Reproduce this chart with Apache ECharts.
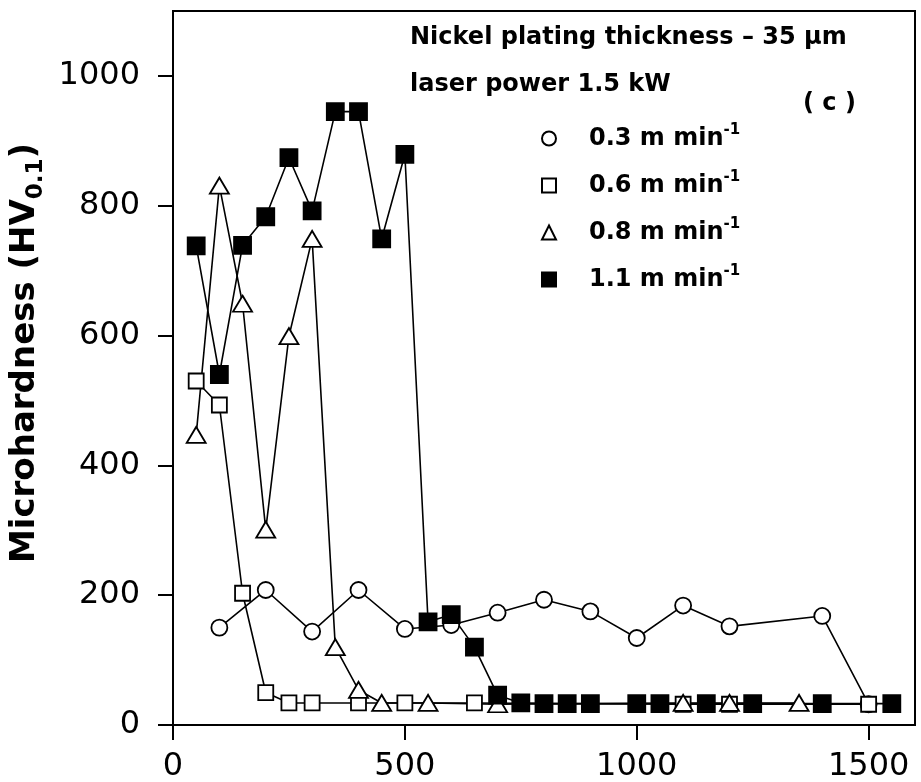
<!DOCTYPE html>
<html>
<head>
<meta charset="utf-8">
<script src="https://cdn.jsdelivr.net/npm/echarts@6/dist/echarts.min.js"></script>
<style>
  html, body { margin: 0; padding: 0; background: #fff; }
  #chart { width: 921px; height: 782px; }
</style>
</head>
<body>
<div id="chart"></div>
<script>
// traverse speeds
var speedNames = ['0.3 m min⁻¹', '0.6 m min⁻¹', '0.8 m min⁻¹', '1.1 m min⁻¹'];

var dist03 = [100, 200, 300, 400, 500, 600, 700, 800, 900, 1000, 1100, 1200, 1400, 1500];
var hv03 = [150, 208, 144, 208, 148, 154, 173, 193, 175, 134, 184, 152, 168, 32];

var dist06 = [50, 100, 150, 200, 250, 300, 400, 500, 650, 1100, 1200, 1500];
var hv06 = [530, 493, 203, 50, 34, 34, 34, 34, 34, 32, 32, 32];

var dist08 = [50, 100, 150, 200, 250, 300, 350, 400, 450, 550, 700, 1100, 1200, 1350];
var hv08 = [447, 831, 649, 301, 599, 749, 120, 54, 34, 34, 32, 34, 34, 34];

var dist11 = [50, 100, 150, 200, 250, 300, 350, 400, 450, 500, 550, 600, 650, 700, 750, 800, 850, 900, 1000, 1050, 1150, 1250, 1400, 1550];
var hv11 = [738, 540, 739, 783, 874, 792, 945, 945, 749, 879, 159, 170, 120, 46, 34, 33, 33, 33, 33, 33, 33, 33, 33, 33];

var xTicks = [0, 500, 1000, 1500];
var yTicks = [0, 200, 400, 600, 800, 1000];

var FONT = '"DejaVu Sans", sans-serif';

function pairs(xs, ys) {
  return xs.map(function (x, i) { return [x, ys[i]]; });
}

function mkSeries(name, xs, ys, symbol, size, fill) {
  return {
    name: name,
    type: 'line',
    data: pairs(xs, ys),
    symbol: symbol,
    symbolSize: size,
    showAllSymbol: true,
    lineStyle: { color: '#000', width: 1.6 },
    itemStyle: { color: fill, borderColor: '#000', borderWidth: 1.8 },
    emphasis: { disabled: true },
    z: 2
  };
}

var chart = echarts.init(document.getElementById('chart'), null, { renderer: 'canvas' });

var option = {
  animation: false,
  backgroundColor: '#fff',
  grid: {
    left: 173, right: 6, top: 11, bottom: 57,
    show: true, borderColor: '#000', borderWidth: 2,
    outerBoundsMode: 'none'
  },
  xAxis: {
    type: 'value',
    min: 0, max: 1600,
    axisLine: { show: true, lineStyle: { color: '#000', width: 2 } },
    axisTick: { show: true, inside: false, length: 15, customValues: xTicks, lineStyle: { color: '#000', width: 2 } },
    axisLabel: {
      customValues: xTicks, margin: 26, color: '#000', fontFamily: FONT, fontSize: 32,
      formatter: function (v) { return String(v); }
    },
    splitLine: { show: false }
  },
  yAxis: {
    type: 'value',
    min: 0, max: 1100,
    name: '{m|Microhardness (HV}{s|0.1}{m|)}',
    nameLocation: 'middle',
    nameGap: 123,
    nameRotate: 90,
    nameTextStyle: {
      padding: [0, 0, 0, 30],
      rich: {
        m: { fontFamily: FONT, fontWeight: 'bold', fontSize: 34, lineHeight: 38, color: '#000' },
        s: { fontFamily: FONT, fontWeight: 'bold', fontSize: 23, lineHeight: 23, padding: [22, 0, 0, 0], color: '#000' }
      }
    },
    axisLine: { show: true, lineStyle: { color: '#000', width: 2 } },
    axisTick: { show: true, inside: false, length: 15, customValues: yTicks, lineStyle: { color: '#000', width: 2 } },
    axisLabel: {
      customValues: yTicks, margin: 33, color: '#000', fontFamily: FONT, fontSize: 32,
      formatter: function (v) { return String(v); }
    },
    splitLine: { show: false }
  },
  legend: {
    orient: 'vertical',
    left: 536, top: 118,
    itemWidth: 14, itemHeight: 14,
    itemGap: 16,
    selectedMode: false,
    data: [
      { name: speedNames[0], icon: 'circle' },
      { name: speedNames[1], icon: 'rect' },
      { name: speedNames[2], icon: 'triangle' },
      { name: speedNames[3], icon: 'rect' }
    ],
    formatter: function (name) {
      return '{a|' + name.replace('⁻¹', '') + '}{s|-1}';
    },
    textStyle: {
      rich: {
        a: { fontFamily: FONT, fontWeight: 'bold', fontSize: 24, lineHeight: 28, padding: [0, 0, 0, 28], color: '#000' },
        s: { fontFamily: FONT, fontWeight: 'bold', fontSize: 15, lineHeight: 15, padding: [0, 0, 16, 0], color: '#000' }
      }
    }
  },
  graphic: [
    { type: 'text', left: 410, top: 26, style: { text: 'Nickel plating thickness – 35 µm', font: 'bold 24px ' + FONT, fill: '#000' } },
    { type: 'text', left: 410, top: 73, style: { text: 'laser power 1.5 kW', font: 'bold 24px ' + FONT, fill: '#000' } },
    { type: 'text', left: 803, top: 92, style: { text: '( c )', font: 'bold 24px ' + FONT, fill: '#000' } }
  ],
  series: [
    mkSeries(speedNames[0], dist03, hv03, 'circle', 16, '#fff'),
    mkSeries(speedNames[1], dist06, hv06, 'rect', 15, '#fff'),
    mkSeries(speedNames[2], dist08, hv08, 'triangle', [19, 16], '#fff'),
    mkSeries(speedNames[3], dist11, hv11, 'rect', 17, '#000')
  ]
};

chart.setOption(option);
</script>
</body>
</html>
